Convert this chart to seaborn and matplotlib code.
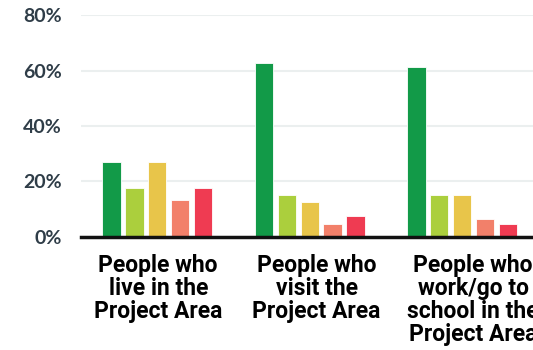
import matplotlib
matplotlib.use("Agg")
import matplotlib.pyplot as plt
import matplotlib.transforms as mtransforms
import seaborn as sns
import pandas as pd
from matplotlib.ticker import FuncFormatter

categories = ["People who\nlive in the\nProject Area",
              "People who\nvisit the\nProject Area",
              "People who\nwork/go to\nschool in the\nProject Area"]
series = ["Series 1", "Series 2", "Series 3", "Series 4", "Series 5"]
values_s1 = [27, 62.8, 61.1]
values_s2 = [17.5, 15, 15]
values_s3 = [27, 12.5, 15]
values_s4 = [13.3, 4.8, 6.5]
values_s5 = [17.5, 7.5, 4.8]
colors = ["#129a48", "#abcf3d", "#e8c54a", "#f2806a", "#ef3b52"]
yticks = [0, 20, 40, 60, 80]

rows = []
for s, vals in zip(series, [values_s1, values_s2, values_s3, values_s4, values_s5]):
    for c, v in zip(categories, vals):
        rows.append({"category": c, "series": s, "value": v})
df = pd.DataFrame(rows)

sns.set_theme(style="white")
fig = plt.figure(figsize=(5.33, 3.5), dpi=100)
ax = fig.add_axes([0.152, 0.323, 0.858, 0.634])

sns.barplot(data=df, x="category", y="value", hue="series", order=categories,
            hue_order=series, palette=colors, saturation=1, width=0.75, gap=0.2,
            edgecolor="white", linewidth=0.6, legend=False, ax=ax)

ax.set_ylim(0, 80)
ax.set_xlim(-0.5, 2.5)
ax.set_yticks(yticks)
ax.yaxis.set_major_formatter(FuncFormatter(lambda v, p: f"{int(v)}%"))
ax.grid(axis="y", color="#ebefef", linewidth=1.5)
ax.set_axisbelow(True)
for sp in ["top", "right", "left"]:
    ax.spines[sp].set_visible(False)
ax.spines["bottom"].set_color("#111111")
ax.spines["bottom"].set_linewidth(2.5)
ax.set_xlabel("")
ax.set_ylabel("")
ax.tick_params(axis="y", length=0, pad=14, labelsize=14, labelcolor="#2f3d48")
ax.tick_params(axis="x", length=0, pad=12)
offsets_px = [1, 7, 11]
for lab, dx in zip(ax.get_xticklabels(), offsets_px):
    lab.set_fontfamily(["Roboto", "DejaVu Sans"])
    lab.set_fontweight("bold")
    lab.set_fontsize(16.5)
    lab.set_color("black")
    lab.set_linespacing(1.0)
    lab.set_verticalalignment("top")
    lab.set_transform(lab.get_transform() + mtransforms.ScaledTranslation(dx / 100, 0, fig.dpi_scale_trans))
for lab in ax.get_yticklabels():
    lab.set_fontfamily(["Lato", "DejaVu Sans"])
    lab.set_fontweight("bold")

fig.savefig("out.png", dpi=100)
